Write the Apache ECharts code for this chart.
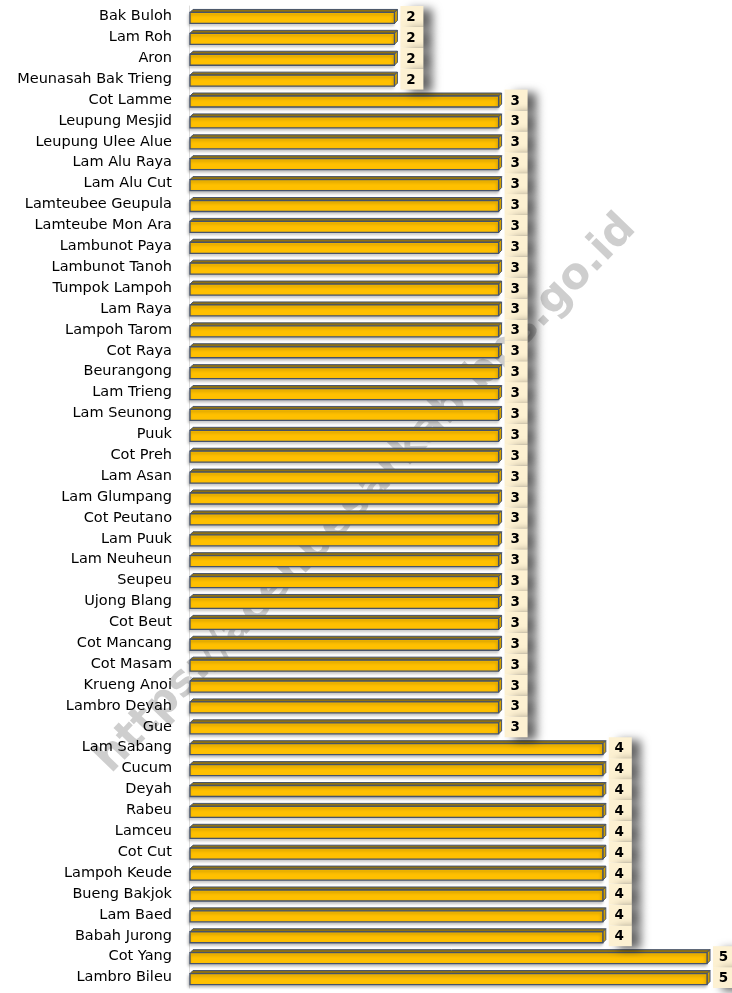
<!DOCTYPE html>
<html>
<head>
<meta charset="utf-8">
<script src="https://cdn.jsdelivr.net/npm/echarts@6/dist/echarts.min.js"></script>
<style>
  html, body { margin: 0; padding: 0; background: #fff; }
  #chart { width: 732px; height: 993px; }
</style>
</head>
<body>
<div id="chart"></div>
<script>
// desa, urut dari atas ke bawah
const categories = [
  'Bak Buloh', 'Lam Roh', 'Aron', 'Meunasah Bak Trieng', 'Cot Lamme',
  'Leupung Mesjid', 'Leupung Ulee Alue', 'Lam Alu Raya', 'Lam Alu Cut',
  'Lamteubee Geupula', 'Lamteube Mon Ara', 'Lambunot Paya', 'Lambunot Tanoh',
  'Tumpok Lampoh', 'Lam Raya', 'Lampoh Tarom', 'Cot Raya', 'Beurangong',
  'Lam Trieng', 'Lam Seunong', 'Puuk', 'Cot Preh', 'Lam Asan', 'Lam Glumpang',
  'Cot Peutano', 'Lam Puuk', 'Lam Neuheun', 'Seupeu', 'Ujong Blang', 'Cot Beut',
  'Cot Mancang', 'Cot Masam', 'Krueng Anoi', 'Lambro Deyah', 'Gue',
  'Lam Sabang', 'Cucum', 'Deyah', 'Rabeu', 'Lamceu', 'Cot Cut', 'Lampoh Keude',
  'Bueng Bakjok', 'Lam Baed', 'Babah Jurong', 'Cot Yang', 'Lambro Bileu'
]
const values = [
  2, 2, 2, 2, 3,
  3, 3, 3, 3,
  3, 3, 3, 3,
  3, 3, 3, 3, 3,
  3, 3, 3, 3, 3, 3,
  3, 3, 3, 3, 3, 3,
  3, 3, 3, 3, 3,
  4, 4, 4, 4, 4, 4, 4,
  4, 4, 4, 5, 5
]
const watermark = 'https://acehbesarkab.bps.go.id'

const chart = echarts.init(document.getElementById('chart'))
const seriesData = values.map((v, i) => [v, i])

const EDGE = '#46536b'
const DEPTH = 3
const BAR_H = 11

function renderBar(params, api) {
  const v = api.value(0)
  const idx = api.value(1)
  const start = api.coord([0, idx])
  const end = api.coord([v, idx])
  const cy = start[1]
  const x0 = start[0] + 1
  const x1 = end[0] - DEPTH
  const yTop = cy - 4
  return {
    type: 'group',
    children: [
      {
        type: 'polygon',
        shape: { points: [[x0, yTop], [x0 + DEPTH, yTop - DEPTH], [x1 + DEPTH, yTop - DEPTH], [x1, yTop]] },
        style: { fill: '#8f7214', stroke: EDGE, lineWidth: 1 }
      },
      {
        type: 'polygon',
        shape: { points: [[x1, yTop], [x1 + DEPTH, yTop - DEPTH], [x1 + DEPTH, yTop - DEPTH + BAR_H], [x1, yTop + BAR_H]] },
        style: { fill: '#d6a300', stroke: EDGE, lineWidth: 1 }
      },
      {
        type: 'rect',
        shape: { x: x0, y: yTop, width: x1 - x0, height: BAR_H },
        style: {
          fill: '#ffc000', stroke: EDGE, lineWidth: 1.3,
          shadowColor: 'rgba(0,0,0,0.25)', shadowBlur: 3, shadowOffsetX: -1, shadowOffsetY: 2
        }
      }
    ]
  }
}

function renderLabel(params, api) {
  const v = api.value(0)
  const idx = api.value(1)
  const end = api.coord([v, idx])
  const band = api.size([0, 1])[1]
  const bx = end[0] + 3
  const bw = 23
  return {
    type: 'group',
    children: [
      {
        type: 'rect',
        shape: { x: bx, y: end[1] - band / 2, width: bw, height: band },
        style: {
          fill: '#fdf1d2',
          shadowColor: 'rgba(0,0,0,0.6)', shadowBlur: 10, shadowOffsetX: 9, shadowOffsetY: 3
        }
      },
      {
        type: 'text',
        style: {
          x: bx + bw / 2 - 1, y: end[1] + 1,
          text: String(v),
          align: 'center', verticalAlign: 'middle',
          font: 'bold 13.5px "DejaVu Sans"', fill: '#000'
        }
      }
    ]
  }
}

chart.setOption({
  animation: false,
  backgroundColor: '#fff',
  graphic: [{
    type: 'text',
    x: 366, y: 494,
    rotation: Math.PI / 180 * 46,
    z: 0,
    style: {
      text: watermark,
      align: 'center', verticalAlign: 'middle',
      font: 'bold 43px "DejaVu Sans"',
      fill: 'rgba(180,180,180,0.65)'
    }
  }],
  grid: { left: 189, right: 22, top: 6, bottom: 5 },
  xAxis: { type: 'value', min: 0, max: 5, show: false },
  yAxis: {
    type: 'category',
    data: categories,
    inverse: true,
    axisTick: { show: false },
    axisLine: { show: true, lineStyle: { color: '#dcdcdc', width: 1 } },
    axisLabel: { color: '#000', fontSize: 14.5, fontFamily: 'DejaVu Sans', margin: 17 }
  },
  series: [
    { type: 'custom', renderItem: renderBar, data: seriesData, encode: { x: 0, y: 1 }, z: 3, clip: false },
    { type: 'custom', renderItem: renderLabel, data: seriesData, encode: { x: 0, y: 1 }, z: 4, clip: false }
  ]
})
</script>
</body>
</html>
